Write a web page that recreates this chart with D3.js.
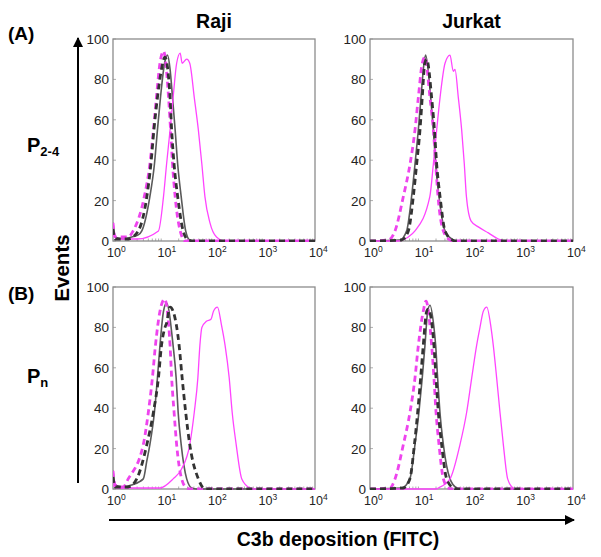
<!DOCTYPE html>
<html>
<head>
<meta charset="utf-8">
<script src="https://cdn.jsdelivr.net/npm/d3@7"></script>
<style>
  body { margin: 0; background: #fff; }
  svg { font-family: "Liberation Sans", Arial, sans-serif; }
</style>
</head>
<body>
<svg id="fig" width="601" height="557"></svg>
<script>
// axis ticks
const decades = [1, 10, 100, 1000, 10000];
const yTicks = [0, 20, 40, 60, 80, 100];
const cellLines = ["Raji", "Jurkat"];

// [FITC intensity, events]
// row A : P2-4
const rajiP24Gray = [[1,9],[1.1,2],[1.6,1],[2.34,2],[3.16,3],[3.72,5],[5.37,22],[6.61,38],[7.59,55],[8.71,71],[10.5,88],[12.0,92],[13.5,85],[15.1,71],[17.0,55],[19.1,38],[22.4,22],[27.5,5],[33.1,0.5],[40,0],[10000,0]];
const rajiP24BlackDash = [[1,6],[1.1,1],[2,1],[3.16,5],[4.68,22],[5.62,38],[6.46,55],[7.59,71],[9.12,85],[10.7,91],[13.5,71],[14.5,55],[16.2,38],[19.1,22],[24.5,5],[30.9,0.5],[40,0],[10000,0]];
const rajiP24MagDash = [[1,9],[1.1,2],[2,2],[2.51,5],[4.17,22],[5.37,38],[6.31,55],[7.24,71],[8.51,88],[10,94],[12.6,71],[13.8,55],[15.1,38],[17.0,22],[21.4,5],[26.9,0],[10000,0]];
const rajiP24Mag = [[1,3],[1.2,1],[3,1],[7.94,5],[10,22],[11.5,38],[13.5,55],[15.5,71],[18.2,88],[21.4,93],[23.4,88],[28.8,90],[33.1,88],[40.7,71],[49.0,55],[57.5,38],[66.1,22],[83.2,9],[112,2],[166,0],[10000,0]];

const jurkatP24Gray = [[1,0],[3.89,0.5],[5.27,5],[6.6,22],[7.7,38],[8.96,55],[10.1,71],[11.6,88],[12.5,92],[15.7,71],[17.7,55],[19.7,38],[22.9,22],[30.1,5],[43.8,0.5],[50,0],[10000,0]];
const jurkatP24BlackDash = [[1,0],[4.17,0.5],[5.69,5],[7.14,22],[8.3,38],[9.66,55],[10.7,71],[12.0,88],[13.1,90],[16.4,71],[18.6,55],[20.6,38],[24.0,22],[30.1,5],[41.7,0.5],[50,0],[10000,0]];
const jurkatP24MagDash = [[1,0],[2.3,0.5],[3.11,5],[4.54,22],[6.14,38],[7.7,55],[8.96,71],[10.7,88],[12.1,91],[15.2,71],[17.7,55],[19.7,38],[21.9,22],[27.9,5],[37.7,0.5],[45,0],[10000,0]];
const jurkatP24Mag = [[1,0],[3.5,0],[5.69,2],[7.7,5],[15.1,22],[17.7,38],[20.6,55],[24.0,71],[30.1,88],[37.7,92],[43.8,84],[47.3,85],[55.0,71],[64.0,55],[72.2,38],[79.4,22],[97.6,10],[136,7],[215,4],[339,1],[532,0],[10000,0]];

// row B : Pn
const rajiPnGray = [[1,9],[1.1,2],[1.6,1],[2.34,2],[3.98,5],[4.68,14],[5.37,22],[6.61,38],[7.59,55],[8.51,71],[10,88],[11.5,92],[15.5,71],[17.8,55],[19.5,38],[22.4,22],[28.8,5],[36.3,0.5],[45,0],[10000,0]];
const rajiPnBlackDash = [[1,6],[1.1,1],[2,1],[2.95,5],[4.68,22],[6.31,38],[7.94,55],[9.12,71],[10.7,80],[11.5,82],[13.5,90],[15.5,88],[20.4,71],[23.4,55],[27.5,38],[33.1,22],[49.0,5],[61.7,0.5],[70,0],[10000,0]];
const rajiPnMagDash = [[1,9],[1.1,2],[1.58,1],[2.0,5],[3.98,22],[5.01,38],[6.03,55],[6.92,71],[8.51,88],[10.5,94],[13.5,71],[14.5,55],[16.2,38],[18.2,22],[22.9,5],[28.8,0.5],[35,0],[10000,0]];
const rajiPnMag = [[1,2],[1.2,0.5],[8.51,0.5],[15.5,5],[22.9,10],[33.1,22],[40.7,38],[47.9,55],[52.5,71],[57.5,80],[70.8,83],[87.1,84],[97.7,88],[117,90],[141,81],[166,71],[200,55],[229,38],[275,22],[355,5],[513,0.5],[600,0],[10000,0]];

const jurkatPnGray = [[1,0],[4.2,0.5],[6.1,5],[7.7,22],[9.2,38],[10.7,55],[12.1,71],[13.7,88],[15.2,91],[18.2,80],[19.7,71],[21.5,55],[23.9,38],[27.9,22],[37.7,5],[51,0.5],[60,0],[10000,0]];
const jurkatPnBlackDash = [[1,0],[4.5,0.5],[6.1,5],[7.5,22],[8.7,38],[9.96,55],[11.2,71],[13.1,88],[14.1,89],[18.2,71],[20.0,55],[22.2,38],[25.8,22],[32.4,5],[43.8,0.5],[50,0],[10000,0]];
const jurkatPnMagDash = [[1,0],[2.48,0.5],[3.11,5],[4.54,22],[6.14,38],[7.7,55],[8.96,71],[11.2,88],[12.7,93],[16.4,71],[18.2,55],[20.0,38],[22.9,22],[27.9,5],[34.9,0.5],[40,0],[10000,0]];
const jurkatPnMag = [[1,0],[20,0],[22.2,0.5],[37.7,5],[59.3,22],[80.3,38],[101,55],[126,71],[147,80],[171,88],[200,90],[242,80],[269,71],[313,55],[364,38],[424,22],[516,5],[667,0.5],[800,0],[10000,0]];

const styles = {
  gray:      { color: "#5a5a5a", width: 1.6, dash: null },
  blackDash: { color: "#333333", width: 2.8, dash: "6,4" },
  magDash:   { color: "#ee44ee", width: 2.8, dash: "6,4" },
  mag:       { color: "#ff44ff", width: 1.3, dash: null }
};

const panels = [
  { x0: 113, x1: 315, y0: 39,  y1: 241, title: "Raji",
    series: [["gray", rajiP24Gray], ["mag", rajiP24Mag], ["magDash", rajiP24MagDash], ["blackDash", rajiP24BlackDash]] },
  { x0: 370, x1: 573, y0: 39,  y1: 241, title: "Jurkat",
    series: [["gray", jurkatP24Gray], ["mag", jurkatP24Mag], ["magDash", jurkatP24MagDash], ["blackDash", jurkatP24BlackDash]] },
  { x0: 113, x1: 315, y0: 287, y1: 489, title: null,
    series: [["gray", rajiPnGray], ["mag", rajiPnMag], ["magDash", rajiPnMagDash], ["blackDash", rajiPnBlackDash]] },
  { x0: 370, x1: 573, y0: 287, y1: 489, title: null,
    series: [["gray", jurkatPnGray], ["mag", jurkatPnMag], ["magDash", jurkatPnMagDash], ["blackDash", jurkatPnBlackDash]] }
];

const svg = d3.select("#fig");

svg.append("defs").append("marker")
  .attr("id", "arrow")
  .attr("viewBox", "0 0 10 10")
  .attr("refX", 9).attr("refY", 5)
  .attr("markerWidth", 5).attr("markerHeight", 5)
  .attr("orient", "auto")
  .append("path")
  .attr("d", "M0,0 L10,5 L0,10 z")
  .attr("fill", "#000");

panels.forEach((p, i) => {
  const x = d3.scaleLog().domain([1, 10000]).range([p.x0, p.x1]);
  const y = d3.scaleLinear().domain([0, 100]).range([p.y1, p.y0]);
  const g = svg.append("g");

  g.append("clipPath").attr("id", "clip" + i)
    .append("rect")
    .attr("x", p.x0).attr("y", p.y0 - 2)
    .attr("width", p.x1 - p.x0).attr("height", p.y1 - p.y0 + 3);

  // minor log ticks along bottom
  const minor = [];
  for (let d = 1; d < 10000; d *= 10) for (let k = 2; k <= 9; k++) minor.push(d * k);
  g.selectAll(".minor").data(minor).join("line")
    .attr("x1", d => x(d)).attr("x2", d => x(d))
    .attr("y1", p.y1).attr("y2", p.y1 - 2.5)
    .attr("stroke", "#999").attr("stroke-width", 0.8);
  g.selectAll(".ytk").data(yTicks).join("line")
    .attr("x1", p.x0).attr("x2", p.x0 + 3)
    .attr("y1", d => y(d)).attr("y2", d => y(d))
    .attr("stroke", "#999").attr("stroke-width", 0.8);

  // frame
  g.append("rect")
    .attr("x", p.x0).attr("y", p.y0)
    .attr("width", p.x1 - p.x0).attr("height", p.y1 - p.y0)
    .attr("fill", "none").attr("stroke", "#8c8c8c").attr("stroke-width", 1.3);

  const line = d3.line()
    .x(d => x(d[0])).y(d => y(d[1]))
    .curve(d3.curveMonotoneX);

  g.append("g").attr("clip-path", `url(#clip${i})`)
    .selectAll("path").data(p.series).join("path")
    .attr("d", d => line(d[1]))
    .attr("fill", "none")
    .attr("stroke", d => styles[d[0]].color)
    .attr("stroke-width", d => styles[d[0]].width)
    .attr("stroke-dasharray", d => styles[d[0]].dash)
    .attr("stroke-linejoin", "round");

  // y tick labels
  g.selectAll(".ylab").data(yTicks).join("text")
    .attr("x", p.x0 - 4).attr("y", d => y(d) + 5)
    .attr("text-anchor", "end")
    .attr("font-size", 13.5).attr("fill", "#222")
    .text(d => d);

  // x tick labels 10^n
  const xl = g.selectAll(".xlab").data(decades).join("text")
    .attr("x", d => x(d) - 6).attr("y", p.y1 + 16)
    .attr("font-size", 12.5).attr("fill", "#222");
  xl.append("tspan").text("10");
  xl.append("tspan").attr("dy", -5).attr("font-size", 8.5).text(d => Math.round(Math.log10(d)));

  if (p.title) {
    svg.append("text")
      .attr("x", (p.x0 + p.x1) / 2).attr("y", 28)
      .attr("text-anchor", "middle")
      .attr("font-size", 19.5).attr("font-weight", "bold")
      .text(p.title);
  }
});

// panel letters and row labels
svg.append("text").attr("x", 8).attr("y", 40)
  .attr("font-size", 19).attr("font-weight", "bold").text("(A)");
svg.append("text").attr("x", 8).attr("y", 300)
  .attr("font-size", 19).attr("font-weight", "bold").text("(B)");

const p24 = svg.append("text").attr("x", 27).attr("y", 152)
  .attr("font-size", 20).attr("font-weight", "bold");
p24.append("tspan").text("P");
p24.append("tspan").attr("dy", 4).attr("font-size", 13).text("2-4");

const pn = svg.append("text").attr("x", 27).attr("y", 383)
  .attr("font-size", 20).attr("font-weight", "bold");
pn.append("tspan").text("P");
pn.append("tspan").attr("dy", 4).attr("font-size", 13).text("n");

// arrows
svg.append("line")
  .attr("x1", 78).attr("y1", 483).attr("x2", 78).attr("y2", 38)
  .attr("stroke", "#000").attr("stroke-width", 2)
  .attr("marker-end", "url(#arrow)");
svg.append("line")
  .attr("x1", 109).attr("y1", 520).attr("x2", 574).attr("y2", 520)
  .attr("stroke", "#000").attr("stroke-width", 2)
  .attr("marker-end", "url(#arrow)");

svg.append("text")
  .attr("transform", "translate(69,268) rotate(-90)")
  .attr("text-anchor", "middle")
  .attr("font-size", 20.5).attr("font-weight", "bold")
  .text("Events");

svg.append("text")
  .attr("x", 338).attr("y", 546)
  .attr("text-anchor", "middle")
  .attr("font-size", 19.5).attr("font-weight", "bold")
  .text("C3b deposition (FITC)");
</script>
</body>
</html>
